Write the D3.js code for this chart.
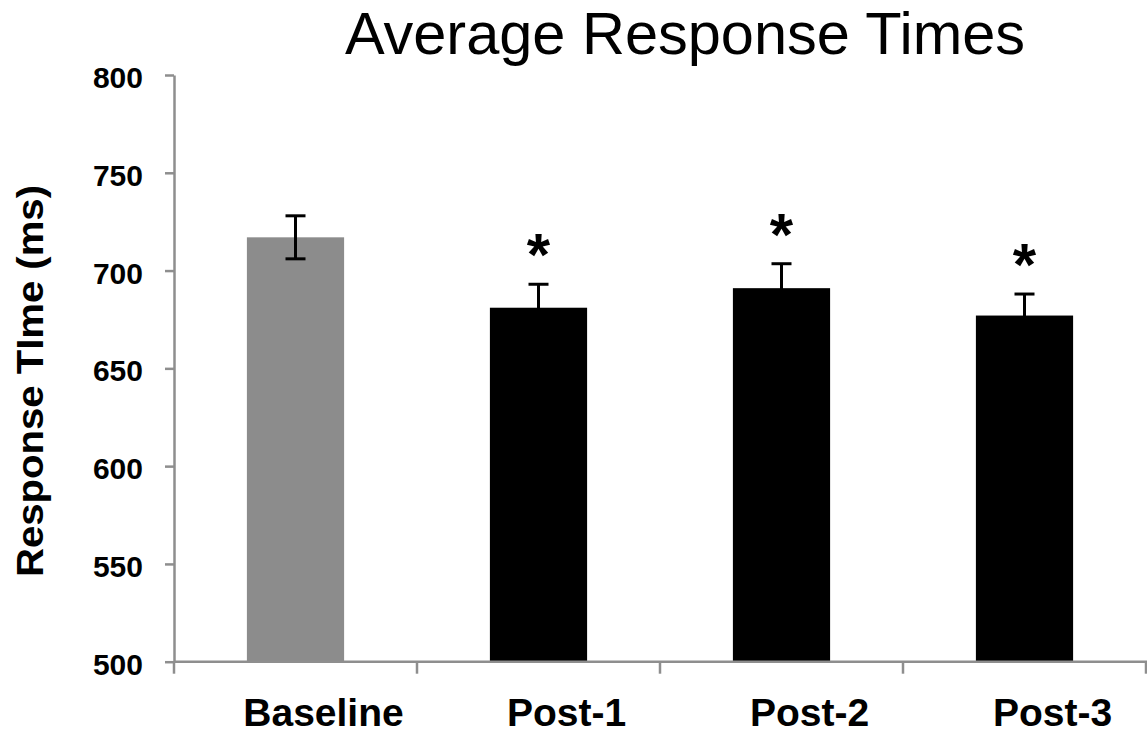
<!DOCTYPE html>
<html>
<head>
<meta charset="utf-8">
<script src="https://cdn.jsdelivr.net/npm/d3@7"></script>
<style>
  html, body { margin: 0; padding: 0; background: #fff; }
  svg { display: block; }
  text { font-family: "Liberation Sans", Arial, sans-serif; }
</style>
</head>
<body>
<svg id="chart" width="1147" height="735"></svg>
<script>
const categories = ["Baseline", "Post-1", "Post-2", "Post-3"];
const means = [717, 681, 691, 677];
const errors = [11, 12, 12.5, 11];
const significant = [false, true, true, true];
const barColors = ["#8c8c8c", "#000000", "#000000", "#000000"];
const yTicks = [500, 550, 600, 650, 700, 750, 800];

(function () {
const svg = d3.select("#chart");
const plotLeft = 174, plotRight = 1146, plotTop = 75, plotBottom = 661.7;

const x = d3.scaleBand().domain(categories).range([plotLeft, plotRight]).padding(0);
const y = d3.scaleLinear().domain([500, 800]).range([plotBottom, plotTop]);
const axisColor = "#8e8e8e";

// Title
svg.append("text")
  .attr("x", 685).attr("y", 54)
  .attr("text-anchor", "middle")
  .attr("font-size", 59.5)
  .attr("fill", "#000")
  .text("Average Response Times");

// Y axis title
svg.append("text")
  .attr("transform", "translate(43,381) rotate(-90)")
  .attr("text-anchor", "middle")
  .attr("font-size", 36)
  .attr("font-weight", "bold")
  .attr("textLength", 392)
  .attr("lengthAdjust", "spacingAndGlyphs")
  .text("Response TIme (ms)");

// Y axis
const yAxis = svg.append("g").attr("transform", `translate(${plotLeft},0)`)
  .call(d3.axisLeft(y).tickValues(yTicks).tickSize(9).tickPadding(22).tickSizeOuter(0));
yAxis.select(".domain").attr("stroke", axisColor).attr("stroke-width", 2.5);
yAxis.selectAll(".tick line").attr("stroke", axisColor).attr("stroke-width", 2.5);
yAxis.selectAll(".tick text")
  .attr("font-size", 30).attr("font-weight", "bold").attr("fill", "#000")
  .attr("font-family", "'Liberation Sans', Arial, sans-serif")
  .attr("dy", "0.42em");

// Y axis extends down to the x tick length
svg.append("line")
  .attr("x1", plotLeft).attr("x2", plotLeft)
  .attr("y1", plotBottom).attr("y2", plotBottom + 12)
  .attr("stroke", axisColor).attr("stroke-width", 2.5);

// Bars
svg.selectAll("rect.bar").data(categories).enter().append("rect")
  .attr("class", "bar")
  .attr("x", d => x(d) + x.bandwidth() * 0.3)
  .attr("width", x.bandwidth() * 0.4)
  .attr("y", (d, i) => y(means[i]))
  .attr("height", (d, i) => y(500) - y(means[i]))
  .attr("fill", (d, i) => barColors[i]);

// X axis line & category boundary ticks
svg.append("line")
  .attr("x1", plotLeft).attr("x2", 1147)
  .attr("y1", plotBottom).attr("y2", plotBottom)
  .attr("stroke", axisColor).attr("stroke-width", 2.5);
const boundaries = categories.map(d => x(d) + x.bandwidth());
svg.selectAll("line.xtick").data(boundaries).enter().append("line")
  .attr("class", "xtick")
  .attr("x1", d => d).attr("x2", d => d)
  .attr("y1", plotBottom).attr("y2", plotBottom + 12)
  .attr("stroke", axisColor).attr("stroke-width", 2.5);

// X labels
svg.selectAll("text.xlabel").data(categories).enter().append("text")
  .attr("class", "xlabel")
  .attr("x", d => x(d) + x.bandwidth() / 2 + 28)
  .attr("y", 726)
  .attr("text-anchor", "middle")
  .attr("font-size", 39)
  .attr("font-weight", "bold")
  .text(d => d);

// Error bars
const capW = 20;
const eb = svg.selectAll("g.err").data(categories).enter().append("g").attr("class", "err");
eb.append("line")
  .attr("x1", d => x(d) + x.bandwidth() / 2).attr("x2", d => x(d) + x.bandwidth() / 2)
  .attr("y1", (d, i) => y(means[i] + errors[i])).attr("y2", (d, i) => y(means[i] - errors[i]))
  .attr("stroke", "#000").attr("stroke-width", 3);
[1, -1].forEach(s => {
  eb.append("line")
    .attr("x1", d => x(d) + x.bandwidth() / 2 - capW / 2).attr("x2", d => x(d) + x.bandwidth() / 2 + capW / 2)
    .attr("y1", (d, i) => y(means[i] + s * errors[i])).attr("y2", (d, i) => y(means[i] + s * errors[i]))
    .attr("stroke", "#000").attr("stroke-width", 3);
});

// Significance asterisks
svg.selectAll("text.star").data(categories.filter((d, i) => significant[i])).enter().append("text")
  .attr("class", "star")
  .attr("x", d => x(d) + x.bandwidth() / 2)
  .attr("y", d => { const i = categories.indexOf(d); return y(means[i] + errors[i]) - 42 + 33; })
  .attr("text-anchor", "middle")
  .attr("font-size", 60)
  .attr("font-weight", "bold")
  .text("*");
})();
</script>
</body>
</html>
